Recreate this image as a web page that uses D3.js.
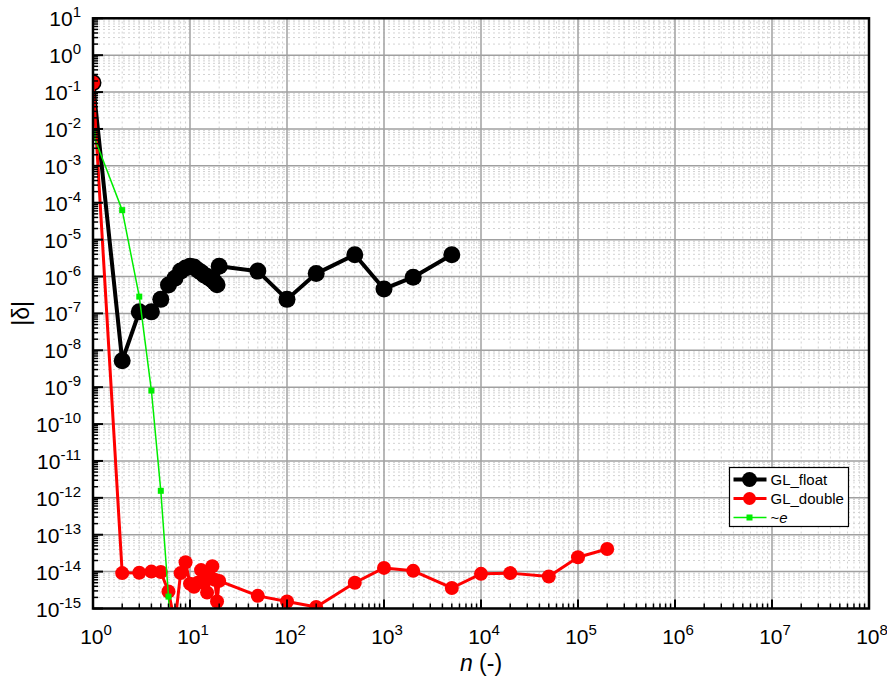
<!DOCTYPE html>
<html>
<head>
<meta charset="utf-8">
<script src="https://cdn.jsdelivr.net/npm/d3@7"></script>
<style>
  body { margin: 0; background: #fff; }
  svg text { font-family: "Liberation Sans", Arial, sans-serif; }
</style>
</head>
<body>
<script>
// data
const nFloat = [1,2,3,4,5,6,7,8,9,10,11,12,13,14,15,16,17,18,19,20,50,100,200,500,1000,2000,5000];
const glFloat = [0.18,5.2e-9,1.1e-7,1.1e-7,2.4e-7,5.9e-7,9e-7,1.4e-6,1.7e-6,1.9e-6,1.8e-6,1.5e-6,1.3e-6,1.1e-6,1e-6,9e-7,8e-7,7e-7,6e-7,1.9e-6,1.4e-6,2.4e-7,1.2e-6,3.9e-6,4.6e-7,9.6e-7,3.9e-6];

const nDouble = [1,2,3,4,5,6,7,8,9,10,11,12,13,14,15,16,17,18,19,20,50,100,200,500,1000,2000,5000,1e4,2e4,5e4,1e5,2e5];
const glDouble = [0.18,9.1e-15,9.3e-15,1e-14,9.8e-15,2.9e-15,4e-16,9.1e-15,1.8e-14,4.7e-15,3.9e-15,5e-15,1.1e-14,5e-15,2.7e-15,7e-15,1.4e-14,6e-15,1.55e-15,5.6e-15,2.2e-15,1.55e-15,1.1e-15,5e-15,1.26e-14,1.05e-14,3.6e-15,8.7e-15,9.1e-15,7.4e-15,2.46e-14,4.1e-14];

const nE = [1,2,3,4,5,6,7];
const eVals = [7.3e-3,6.3e-5,2.85e-7,8.1e-10,1.55e-12,2.1e-15,1e-18];

const xExps = d3.range(0, 9);     // 10^0 .. 10^8
const yExps = d3.range(-15, 2);   // 10^-15 .. 10^1

const W = 887, H = 682;
const m = {left: 93, right: 18, top: 18, bottom: 73};

const svg = d3.select("body").append("svg").attr("width", W).attr("height", H);

const x = d3.scaleLog().domain([1, 1e8]).range([m.left, W - m.right]);
const y = d3.scaleLog().domain([1e-15, 10]).range([H - m.bottom - 0.5, m.top + 0.3]);

const [x0, x1] = x.range();
const [y0, y1] = y.range();

svg.append("defs").append("clipPath").attr("id", "plotclip")
  .append("rect").attr("x", x0).attr("y", y1).attr("width", x1 - x0).attr("height", y0 - y1);

// grid
const grid = svg.append("g");
const minorX = [], minorY = [];
xExps.slice(0, -1).forEach(e => d3.range(2, 10).forEach(k => minorX.push(k * Math.pow(10, e))));
yExps.slice(0, -1).forEach(e => d3.range(2, 10).forEach(k => minorY.push(k * Math.pow(10, e))));

grid.selectAll(".mx").data(minorX).join("line")
  .attr("x1", d => x(d)).attr("x2", d => x(d)).attr("y1", y0).attr("y2", y1)
  .attr("stroke", "#d2d2d2").attr("stroke-width", 1).attr("stroke-dasharray", "2,3");
grid.selectAll(".my").data(minorY).join("line")
  .attr("y1", d => y(d)).attr("y2", d => y(d)).attr("x1", x0).attr("x2", x1)
  .attr("stroke", "#d2d2d2").attr("stroke-width", 1).attr("stroke-dasharray", "2,3");
grid.selectAll(".Mx").data(xExps.map(e => Math.pow(10, e))).join("line")
  .attr("x1", d => x(d)).attr("x2", d => x(d)).attr("y1", y0).attr("y2", y1)
  .attr("stroke", "#a0a0a0").attr("stroke-width", 1.5);
grid.selectAll(".My").data(yExps.map(e => Math.pow(10, e))).join("line")
  .attr("y1", d => y(d)).attr("y2", d => y(d)).attr("x1", x0).attr("x2", x1)
  .attr("stroke", "#a0a0a0").attr("stroke-width", 1.5);

// series
const plot = svg.append("g").attr("clip-path", "url(#plotclip)");
const line = d3.line().x(d => x(d[0])).y(d => y(d[1]));

function series(xs, ys, color, lw, shape, size) {
  const pts = xs.map((v, i) => [v, ys[i]]);
  plot.append("path").datum(pts).attr("d", line)
    .attr("fill", "none").attr("stroke", color).attr("stroke-width", lw).attr("stroke-linejoin", "round");
  if (shape === "circle") {
    plot.append("g").selectAll("circle").data(pts).join("circle")
      .attr("cx", d => x(d[0])).attr("cy", d => y(d[1])).attr("r", size).attr("fill", color);
  } else {
    plot.append("g").selectAll("rect").data(pts).join("rect")
      .attr("x", d => x(d[0]) - size / 2).attr("y", d => y(d[1]) - size / 2)
      .attr("width", size).attr("height", size).attr("fill", color);
  }
}
series(nFloat, glFloat, "#000", 4, "circle", 8.5);
series(nDouble, glDouble, "#ff0000", 3, "circle", 7);
series(nE, eVals, "#00ee00", 1.5, "square", 6);

// ticks (inward, left and bottom)
const ticks = svg.append("g").attr("stroke", "#000");
ticks.selectAll(".tym").data(minorY).join("line")
  .attr("x1", x0).attr("x2", x0 + 5).attr("y1", d => y(d)).attr("y2", d => y(d)).attr("stroke-width", 1.5);
ticks.selectAll(".tyM").data(yExps.map(e => Math.pow(10, e))).join("line")
  .attr("x1", x0).attr("x2", x0 + 10).attr("y1", d => y(d)).attr("y2", d => y(d)).attr("stroke-width", 2);
ticks.selectAll(".txm").data(minorX).join("line")
  .attr("y1", y0).attr("y2", y0 - 5).attr("x1", d => x(d)).attr("x2", d => x(d)).attr("stroke-width", 1.5);
ticks.selectAll(".txM").data(xExps.map(e => Math.pow(10, e))).join("line")
  .attr("y1", y0).attr("y2", y0 - 9).attr("x1", d => x(d)).attr("x2", d => x(d)).attr("stroke-width", 2);

// frame
svg.append("rect").attr("x", x0).attr("y", y1).attr("width", x1 - x0).attr("height", y0 - y1)
  .attr("fill", "none").attr("stroke", "#000").attr("stroke-width", 2.5);

// tick labels
function powLabel(sel, e) {
  sel.append("tspan").text("10");
  sel.append("tspan").attr("dy", -9).attr("font-size", 15).text(e);
}
svg.append("g").selectAll("text").data(yExps).join("text")
  .attr("x", x0 - 12).attr("y", d => y(Math.pow(10, d)) + 8)
  .attr("text-anchor", "end").attr("font-size", 21).attr("fill", "#000")
  .each(function(d) { powLabel(d3.select(this), d); });
svg.append("g").selectAll("text").data(xExps).join("text")
  .attr("x", d => x(Math.pow(10, d)) + 3).attr("y", y0 + 35)
  .attr("text-anchor", "middle").attr("font-size", 21).attr("fill", "#000")
  .each(function(d) { powLabel(d3.select(this), d); });

// axis titles
const xt = svg.append("text").attr("x", (x0 + x1) / 2).attr("y", 671)
  .attr("text-anchor", "middle").attr("font-size", 23);
xt.append("tspan").attr("font-style", "italic").text("n");
xt.append("tspan").text(" (-)");
svg.append("text").attr("transform", `translate(29,${(y0 + y1) / 2}) rotate(-90)`)
  .attr("text-anchor", "middle").attr("font-size", 23).text("|δ|");

// legend
const leg = svg.append("g").attr("transform", "translate(729.5,467.5)");
leg.append("rect").attr("width", 119).attr("height", 59).attr("fill", "#fff").attr("stroke", "#000").attr("stroke-width", 1.2);
const legItems = [
  {label: "GL_float", color: "#000", lw: 4, shape: "circle", size: 7.5},
  {label: "GL_double", color: "#ff0000", lw: 3, shape: "circle", size: 6.5},
  {label: "~e", color: "#00ee00", lw: 1.5, shape: "square", size: 6}
];
legItems.forEach((it, i) => {
  const g = leg.append("g").attr("transform", `translate(0,${12 + i * 19})`);
  g.append("line").attr("x1", 4).attr("x2", 37).attr("stroke", it.color).attr("stroke-width", it.lw);
  if (it.shape === "circle") g.append("circle").attr("cx", 20).attr("r", it.size).attr("fill", it.color);
  else g.append("rect").attr("x", 17).attr("y", -3).attr("width", 6).attr("height", 6).attr("fill", it.color);
  const t = g.append("text").attr("x", 41).attr("y", 5.5).attr("font-size", 15);
  if (i === 2) { t.append("tspan").text("~"); t.append("tspan").attr("font-style", "italic").text("e"); }
  else t.text(it.label);
});
</script>
</body>
</html>
